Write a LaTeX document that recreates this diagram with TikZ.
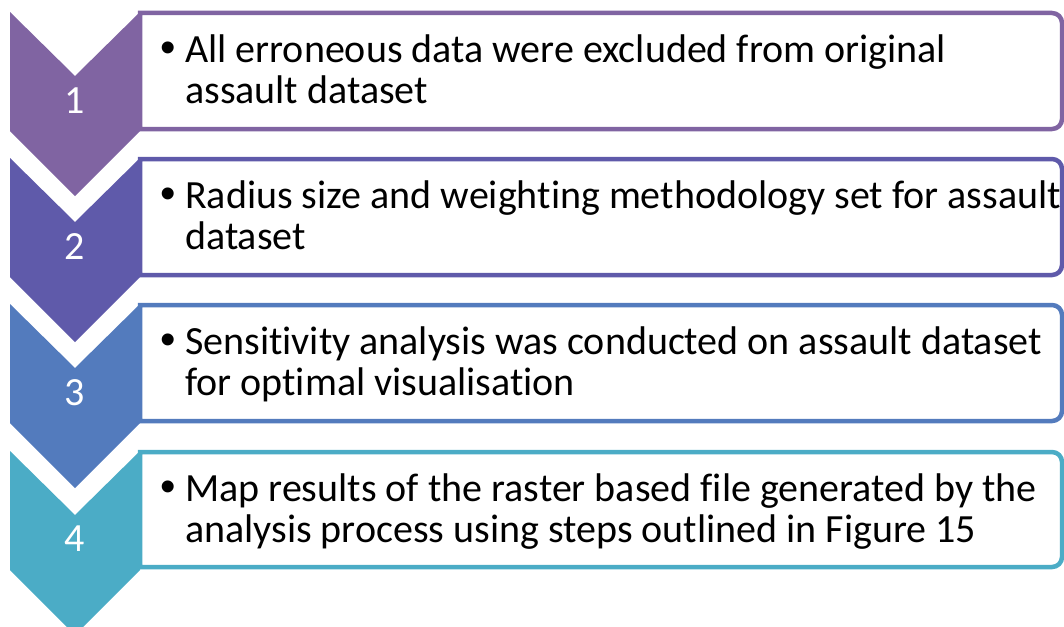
\documentclass[tikz,border=0pt]{standalone}
\usepackage{fontspec}
\setmainfont{Carlito}[Ligatures=NoCommon]
\newfontfamily\bulletfont{Liberation Sans}
\usetikzlibrary{positioning}

\definecolor{stepA}{RGB}{128,100,162}
\definecolor{stepB}{RGB}{95,90,170}
\definecolor{stepC}{RGB}{83,123,189}
\definecolor{stepD}{RGB}{75,172,198}

\tikzset{
	chevron/.style={fill=#1},
	boxline/.style={draw=#1, line width=4.5pt, fill=white},
	num/.style={text=white, font=\fontsize{40}{40}\selectfont, inner sep=0pt},
	item/.style={anchor=north west, inner sep=0pt, align=left,
		font=\fontsize{40}{41}\selectfont},
}

\newcommand{\itembullet}{\llap{{\bulletfont\fontsize{44}{44}\selectfont\textbullet}\hspace{9pt}}}

\begin{document}
\begin{tikzpicture}[x=1pt, y=-1pt]
				\useasboundingbox (0,0) rectangle (1064,626);
				
				% boxes
				\draw[boxline=stepA] (140,13) [rounded corners=10pt] -- (1062,13) -- (1062,129) [sharp corners] -- (140,129) -- cycle;
				\draw[boxline=stepB] (140,159) [rounded corners=10pt] -- (1062,159) -- (1062,275) [sharp corners] -- (140,275) -- cycle;
				\draw[boxline=stepC] (140,305) [rounded corners=10pt] -- (1062,305) -- (1062,421) [sharp corners] -- (140,421) -- cycle;
				\draw[boxline=stepD] (140,452) [rounded corners=10pt] -- (1062,452) -- (1062,567) [sharp corners] -- (140,567) -- cycle;
				
				% chevrons
				\fill[chevron=stepA] (10,12) -- (75,76) -- (140,12) -- (140,131) -- (75,196) -- (10,131) -- cycle;
				\fill[chevron=stepB] (10,158) -- (75,222) -- (140,158) -- (140,277) -- (75,342) -- (10,277) -- cycle;
				\fill[chevron=stepC] (10,304) -- (75,368) -- (140,304) -- (140,423) -- (75,488) -- (10,423) -- cycle;
				\fill[chevron=stepD] (10,451) -- (75,515) -- (140,451) -- (140,570) -- (75,635) -- (10,570) -- cycle;
				
				\node[num] (n1) at (75,101) {1};
				\node[num] (n2) at (75,247) {2};
				\node[num] (n3) at (75,393) {3};
				\node[num] (n4) at (75,539) {4};
				
				\node[item] (t1) at (185,35) {\itembullet All erroneous data were excluded from original\\assault dataset};
				\node[item] (t2) at (185,181) {\itembullet Radius size and weighting methodology set for assault\\dataset};
				\node[item] (t3) at (185,327) {\itembullet Sensitivity analysis was conducted on assault dataset\\for optimal visualisation};
				\node[item] (t4) at (185,474) {\itembullet Map results of the raster based file generated by the\\analysis process using steps outlined in Figure 15};
			\end{tikzpicture}
\end{document}
